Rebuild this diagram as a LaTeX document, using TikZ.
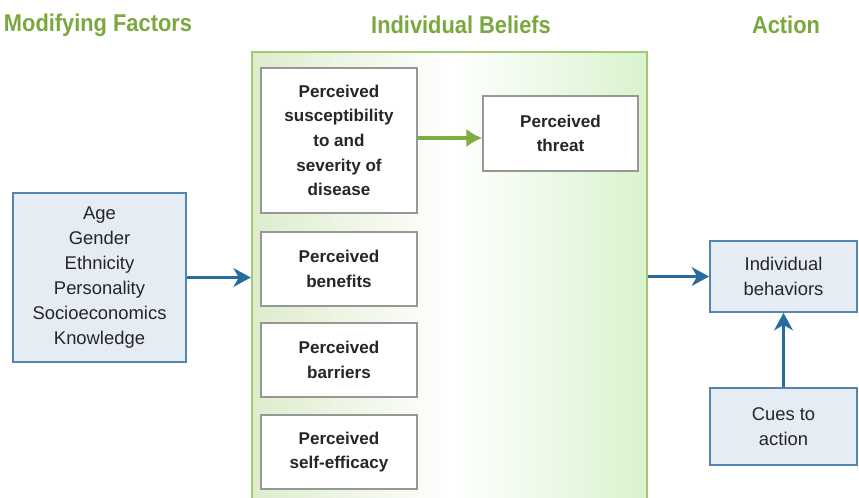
\documentclass[tikz,border=0pt]{standalone}
\usepackage{fontspec}
\setmainfont{Liberation Sans}
\newfontfamily\headfont[FakeStretch=0.9]{Liberation Sans}
\usetikzlibrary{arrows.meta}

\definecolor{headgreen}{RGB}{122,168,62}
\definecolor{framegreen}{RGB}{163,201,112}
\definecolor{palegreen}{RGB}{222,236,205}
\definecolor{arrowgreen}{RGB}{128,172,66}
\definecolor{arrowblue}{RGB}{38,108,158}
\definecolor{boxblue}{RGB}{84,132,176}
\definecolor{fillblue}{RGB}{229,236,244}
\definecolor{boxgray}{RGB}{150,152,150}
\definecolor{inkgray}{RGB}{38,38,38}

\tikzset{
  heading/.style={text=headgreen, font=\headfont\bfseries\fontsize{18.2pt}{21pt}\selectfont},
  beliefbox/.style={draw=boxgray, line width=1.1pt, fill=white, text=inkgray,
    align=center, inner sep=0pt, font=\bfseries\fontsize{12.8pt}{18.5pt}\selectfont},
  bluebox/.style={draw=boxblue, line width=1.4pt, fill=fillblue, text=inkgray,
    align=center, inner sep=0pt, font=\fontsize{13.8pt}{18.7pt}\selectfont},
  bluearrow/.style={draw=arrowblue, line width=2.2pt,
    -{Stealth[length=13pt,width=14pt,inset=4pt]}},
  greenarrow/.style={draw=arrowgreen, line width=2.4pt,
    -{Latex[length=12pt,width=14pt]}},
}

\begin{document}
\begin{tikzpicture}[x=0.75pt,y=-0.75pt]
  \useasboundingbox (0,0) rectangle (859,497);
  \clip (0,0) rectangle (859,497);
  \fill[white] (0,0) rectangle (859,497);

  % column headings
  \node[heading] (hmod) at (98,25) {Modifying Factors};
  \node[heading] (hbel) at (461,25) {Individual Beliefs};
  \node[heading] (hact) at (786,25) {Action};

  % panel holding the individual beliefs
  \node[draw=framegreen, line width=1.8pt, minimum width={395*0.75pt},
        minimum height={450*0.75pt}, inner sep=0pt,
        left color=palegreen, right color=palegreen!90!green!70!white, middle color=white]
        (big) at (449.5,277) {};

  % belief boxes
  \node[beliefbox, minimum width={156*0.75pt}, minimum height={145*0.75pt}]
    (sus) at (339,140.5) {Perceived\\susceptibility\\to and\\severity of\\disease};
  \node[beliefbox, minimum width={155*0.75pt}, minimum height={75*0.75pt}]
    (thr) at (560.5,133.5) {Perceived\\threat};
  \node[beliefbox, minimum width={156*0.75pt}, minimum height={74*0.75pt}]
    (ben) at (339,269) {Perceived\\benefits};
  \node[beliefbox, minimum width={156*0.75pt}, minimum height={74*0.75pt}]
    (bar) at (339,360) {Perceived\\barriers};
  \node[beliefbox, minimum width={156*0.75pt}, minimum height={74*0.75pt}]
    (eff) at (339,452) {Perceived\\self-efficacy};

  % modifying factors
  \node[bluebox, minimum width={173*0.75pt}, minimum height={169*0.75pt}]
    (mod) at (99.5,277.5) {Age\\Gender\\Ethnicity\\Personality\\Socioeconomics\\Knowledge};

  % action boxes
  \node[bluebox, minimum width={147*0.75pt}, minimum height={71*0.75pt}]
    (beh) at (783.5,276.5) {Individual\\behaviors};
  \node[bluebox, minimum width={147*0.75pt}, minimum height={77*0.75pt}]
    (cue) at (783.5,426.5) {Cues to\\action};

  % connectors
  \draw[greenarrow] (sus.east |- 0,138) -- (thr.west |- 0,138);
  \draw[bluearrow] (mod.east) -- (mod.east -| big.west);
  \draw[bluearrow] (big.east |- beh.west) -- (beh.west);
  \draw[bluearrow] (cue.north) -- (beh.south);
\end{tikzpicture}
\end{document}
